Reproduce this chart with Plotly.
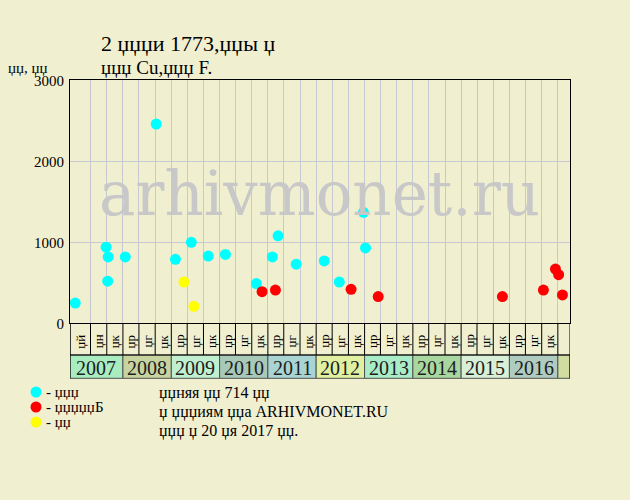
import pandas as pd
import plotly.graph_objects as go

# ---------------- data ----------------
auction_dates = ["2007-01-06", "2007-08-27", "2007-09-12", "2007-09-08", "2008-01-19",
                 "2008-09-09", "2009-02-01", "2009-06-01", "2009-10-07", "2010-02-14",
                 "2010-10-06", "2011-02-04", "2011-03-19", "2011-08-03", "2012-03-02",
                 "2012-06-24", "2012-12-23", "2013-01-08"]
auction_prices = [250, 940, 820, 520, 820, 2460, 790, 1000, 830, 850,
                  490, 820, 1080, 730, 770, 510, 1370, 930]

red_dates = ["2010-11-18", "2011-02-27", "2012-09-21", "2013-04-14", "2015-11-09",
             "2016-09-14", "2016-12-14", "2017-01-07", "2017-02-05"]
red_prices = [390, 410, 420, 330, 330, 410, 670, 600, 350]

yellow_dates = ["2009-04-07", "2009-06-21"]
yellow_prices = [510, 210]

series_labels = ["- џџџ", "- џџџџџБ", "- џџ"]
series_colors = ["#00ffff", "#ff0000", "#ffff00"]

years = [2007, 2008, 2009, 2010, 2011, 2012, 2013, 2014, 2015, 2016]
year_colors = ["#a8ecc0", "#c8d4a0", "#c0f0d0", "#a8c8b8", "#a8d4d4",
               "#e0f0a0", "#a8ecc8", "#a8d8a0", "#d8f0d8", "#b0ccc0"]
tail_color = "#d0dca0"
period_labels_first = ["џй", "џн", "џк"]
period_labels = ["џр", "џг", "џк"]

title_line1 = "2 џџџи 1773,џџы џ"
title_line2 = "џџџ Cu,џџџ F."
y_title = "џџ, џџ"
info_lines = ["џџняя џџ 714 џџ", "џ џџџиям џџа ARHIVMONET.RU", "џџџ џ 20 џя 2017 џџ."]
watermark = "arhivmonet.ru"

x_start = "2006-11-27"
x_end = "2017-04-03"

# ---------------- layout helpers ----------------
W, H = 630, 500
BG = "#f0efd0"
FONT = "Liberation Serif"


def px(x):
    return x / W


def py(y):
    return (H - y) / H


plot_l, plot_r, plot_t, plot_b = 70, 570, 80.3, 323.3
month_bottom = 355
year_bottom = 378.3

boundaries = [d.strftime("%Y-%m-%d") for d in pd.date_range("2007-05-01", "2017-01-01", freq="4MS")]
edges = [x_start] + boundaries + [x_end]

fig = go.Figure()

for dates, prices, color in [(auction_dates, auction_prices, series_colors[0]),
                             (red_dates, red_prices, series_colors[1]),
                             (yellow_dates, yellow_prices, series_colors[2])]:
    fig.add_trace(go.Scatter(x=dates, y=prices, mode="markers",
                             marker=dict(size=11, color=color, line=dict(width=0)),
                             xaxis="x", yaxis="y", showlegend=False))

# legend drawn on a tiny helper axis pair
for lab, col in zip(series_labels, series_colors):
    fig.add_trace(go.Scatter(x=[0], y=[lab], mode="markers",
                             marker=dict(size=11, color=col, line=dict(width=0)),
                             xaxis="x2", yaxis="y2", showlegend=False))

shapes = []
annotations = []

# month row cells
for i in range(len(edges) - 1):
    shapes.append(dict(type="line", xref="x", yref="paper", x0=edges[i], x1=edges[i],
                       y0=py(plot_b), y1=py(month_bottom), line=dict(color="black", width=1)))
shapes.append(dict(type="line", xref="x", yref="paper", x0=x_end, x1=x_end,
                   y0=py(plot_b), y1=py(year_bottom), line=dict(color="black", width=1)))
shapes.append(dict(type="line", xref="x", yref="paper", x0=x_start, x1=x_start,
                   y0=py(plot_b), y1=py(year_bottom), line=dict(color="black", width=1)))
shapes.append(dict(type="line", xref="x", yref="paper", x0=x_start, x1=x_end,
                   y0=py(month_bottom), y1=py(month_bottom), line=dict(color="black", width=1)))

# month labels
for i in range(len(edges) - 2):
    a = pd.Timestamp(edges[i])
    b = pd.Timestamp(edges[i + 1])
    mid = (a + (b - a) / 2).strftime("%Y-%m-%d %H:%M")
    labs = period_labels_first if i < 3 else period_labels
    annotations.append(dict(xref="x", yref="paper", x=mid, y=py(341.5),
                            xanchor="center", yanchor="middle",
                            text=labs[i % 3], textangle=-90, showarrow=False,
                            font=dict(family=FONT, size=13, color="black")))

# year cells
for k, (yr, col) in enumerate(zip(years, year_colors)):
    x0 = x_start if k == 0 else f"{yr}-01-01"
    x1 = f"{yr + 1}-01-01"
    shapes.append(dict(type="rect", xref="x", yref="paper", x0=x0, x1=x1,
                       y0=py(year_bottom), y1=py(month_bottom), fillcolor=col,
                       line=dict(color="#505050", width=1), layer="below"))
    a = pd.Timestamp(x0)
    b = pd.Timestamp(x1)
    mid = (a + (b - a) / 2).strftime("%Y-%m-%d %H:%M")
    annotations.append(dict(xref="x", yref="paper", x=mid, y=py((month_bottom + year_bottom) / 2 + 1),
                            xanchor="center", yanchor="middle",
                            text=str(yr), showarrow=False,
                            font=dict(family=FONT, size=20, color="#202020")))
shapes.append(dict(type="rect", xref="x", yref="paper", x0="2017-01-01", x1=x_end,
                   y0=py(year_bottom), y1=py(month_bottom), fillcolor=tail_color,
                   line=dict(color="#505050", width=1), layer="below"))

# texts
annotations.append(dict(xref="paper", yref="paper", x=px(99), y=py(44), xanchor="left", yanchor="middle",
                        text=title_line1, showarrow=False, font=dict(family=FONT, size=22, color="black")))
annotations.append(dict(xref="paper", yref="paper", x=px(99), y=py(67), xanchor="left", yanchor="middle",
                        text=title_line2, showarrow=False, font=dict(family=FONT, size=19, color="black")))
annotations.append(dict(xref="paper", yref="paper", x=px(6), y=py(68), xanchor="left", yanchor="middle",
                        text=y_title, showarrow=False, font=dict(family=FONT, size=15, color="black")))
for txt, yy in zip(info_lines, [392.5, 411.5, 430.5]):
    annotations.append(dict(xref="paper", yref="paper", x=px(157), y=py(yy), xanchor="left", yanchor="middle",
                            text=txt, showarrow=False, font=dict(family=FONT, size=16, color="black")))
annotations.append(dict(xref="paper", yref="paper", x=px(319), y=py(193), xanchor="center", yanchor="middle",
                        text=watermark, showarrow=False,
                        font=dict(family="DejaVu Serif", size=61, color="#c8c8c8")))

fig.update_layout(
    width=W, height=H, autosize=False,
    margin=dict(l=0, r=0, t=0, b=0, pad=0, autoexpand=False),
    paper_bgcolor=BG, plot_bgcolor=BG,
    showlegend=False,
    shapes=shapes, annotations=annotations,
    xaxis=dict(domain=[px(plot_l), px(plot_r)], type="date", range=[x_start, x_end],
               tickmode="array", tickvals=boundaries, showticklabels=False, ticks="",
               showgrid=True, gridcolor="#c8c8d2", gridwidth=1, automargin=False,
               showline=True, linecolor="black", linewidth=1, mirror=True, zeroline=False),
    yaxis=dict(domain=[py(plot_b), py(plot_t)], range=[0, 3000], tickvals=[0, 1000, 2000, 3000],
               ticks="", ticklabelstandoff=2, automargin=False,
               tickfont=dict(family=FONT, size=15, color="black"),
               showgrid=True, gridcolor="#c8c8d2", gridwidth=1,
               showline=True, linecolor="black", linewidth=1, mirror=True, zeroline=False),
    xaxis2=dict(domain=[px(30), px(42)], range=[-1, 1], visible=False, anchor="y2", automargin=False),
    yaxis2=dict(domain=[py(429.5), py(384.5)], type="category", categoryarray=series_labels,
                tickmode="array", tickvals=series_labels, ticktext=series_labels,
                range=[2.5, -0.5], anchor="x2", side="right", showgrid=False, zeroline=False,
                showline=False, ticks="", ticklabelstandoff=3, automargin=False,
                tickfont=dict(family=FONT, size=15, color="black")),
)

fig.write_html(
    "out.html",
    config={"responsive": False, "displayModeBar": False},
    post_script="document.body.style.margin='0';document.body.style.overflow='hidden';",
)
